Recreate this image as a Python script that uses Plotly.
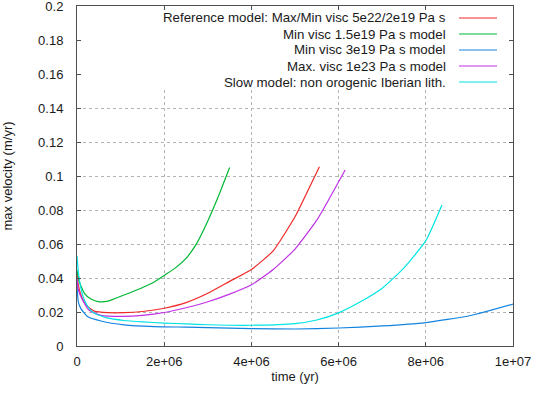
import plotly.graph_objects as go

# ---------------- data (time in years, velocity in m/yr) ----------------
names = [
    "Reference model: Max/Min visc 5e22/2e19 Pa s",
    "Min visc 1.5e19 Pa s model",
    "Min visc 3e19 Pa s model",
    "Max. visc 1e23 Pa s model",
    "Slow model: non orogenic Iberian lith.",
]
colors = ["#f02828", "#00b834", "#1284e0", "#c030e8", "#00e4e4"]

ref_t = [0, 0.03e6, 0.09e6, 0.21e6, 0.4e6, 0.71e6, 1.08e6, 1.5e6, 2.0e6, 2.5e6,
         3.0e6, 3.5e6, 4.0e6, 4.5e6, 5.0e6, 5.25e6, 5.56e6]
ref_v = [0.043, 0.036, 0.030, 0.024, 0.0205, 0.0196, 0.0196, 0.0203, 0.0222, 0.0255,
         0.031, 0.038, 0.045, 0.056, 0.076, 0.089, 0.1055]

g_t = [0, 0.05e6, 0.17e6, 0.32e6, 0.51e6, 0.71e6, 1.08e6, 1.47e6, 1.77e6, 2.02e6,
       2.25e6, 2.5e6, 2.75e6, 3.0e6, 3.25e6, 3.5e6]
g_v = [0.0447, 0.038, 0.031, 0.0276, 0.026, 0.0264, 0.030, 0.034, 0.0376, 0.0418,
       0.0458, 0.0515, 0.0605, 0.0735, 0.0885, 0.105]

b_t = [0, 0.03e6, 0.09e6, 0.24e6, 0.55e6, 1.08e6, 1.77e6, 2.5e6, 3.0e6, 4.0e6,
       5.0e6, 6.0e6, 7.0e6, 8.0e6, 9.0e6, 10.0e6]
b_v = [0.036, 0.026, 0.022, 0.0173, 0.0147, 0.0124, 0.0114, 0.0111, 0.0108, 0.0102,
       0.0100, 0.0106, 0.0118, 0.0138, 0.0178, 0.0247]

m_t = [0, 0.03e6, 0.13e6, 0.28e6, 0.55e6, 1.08e6, 1.5e6, 2.0e6, 2.5e6, 3.0e6,
       3.5e6, 4.0e6, 4.5e6, 5.0e6, 5.5e6, 5.75e6, 6.15e6]
m_v = [0.040, 0.033, 0.027, 0.021, 0.018, 0.0174, 0.018, 0.0197, 0.0225, 0.026,
       0.0305, 0.036, 0.045, 0.057, 0.074, 0.085, 0.1035]

c_t = [0, 0.03e6, 0.09e6, 0.17e6, 0.28e6, 0.4e6, 0.69e6, 1.08e6, 1.5e6, 2.0e6, 2.5e6,
       3.0e6, 4.0e6, 5.0e6, 5.5e6, 6.0e6, 6.5e6, 7.0e6, 7.5e6, 8.0e6, 8.37e6]
c_v = [0.053, 0.0437, 0.034, 0.027, 0.022, 0.0193, 0.0165, 0.015, 0.0142, 0.0135, 0.013,
       0.0125, 0.0122, 0.0132, 0.0153, 0.0195, 0.026, 0.034, 0.046, 0.062, 0.083]

series_t = [ref_t, g_t, b_t, m_t, c_t]
series_v = [ref_v, g_v, b_v, m_v, c_v]

x_ticks = [0, 2e6, 4e6, 6e6, 8e6, 1e7]
x_labels = ["0", "2e+06", "4e+06", "6e+06", "8e+06", "1e+07"]
y_ticks = [0, 0.02, 0.04, 0.06, 0.08, 0.1, 0.12, 0.14, 0.16, 0.18, 0.2]
y_labels = ["0", "0.02", "0.04", "0.06", "0.08", "0.1", "0.12", "0.14", "0.16", "0.18", "0.2"]

# ---------------- figure ----------------
W, H = 533, 394
ML, MR, MT, MB = 77, 20, 6, 48
PW, PH = W - ML - MR, H - MT - MB

FONT = "Liberation Sans, Arial, sans-serif"
TXT = "#1a1a1a"

fig = go.Figure()
for name, t, v, col in zip(names, series_t, series_v, colors):
    fig.add_trace(go.Scatter(x=t, y=v, mode="lines", name=name,
                             line=dict(color=col, width=1.2, shape="spline", smoothing=0.5),
                             showlegend=False, hoverinfo="skip"))

def px2paper(px, py):
    return (px - ML) / PW, (H - MB - py) / PH

# white key background that hides the grid near the top (gnuplot opaque key)
fig.add_shape(type="rect", xref="x", yref="y", x0=0, x1=1e7, y0=0.151, y1=0.2,
              fillcolor="white", line=dict(width=0), layer="between")

# key: right aligned text followed by a line sample
row_y = [18, 34, 50, 66, 82]
for name, col, ry in zip(names, colors, row_y):
    tx, ty = px2paper(448, ry)
    fig.add_annotation(x=tx, y=ty, xref="paper", yref="paper", text=name,
                       showarrow=False, xanchor="right", yanchor="middle",
                       font=dict(family=FONT, size=13.3, color=TXT))
    x0, y0 = px2paper(459, ry)
    x1, _ = px2paper(497, ry)
    fig.add_shape(type="line", xref="paper", yref="paper", x0=x0, x1=x1, y0=y0, y1=y0,
                  line=dict(color=col, width=1.2))

axis_common = dict(
    showline=True, linecolor="#505050", linewidth=1, mirror="ticks",
    ticks="inside", ticklen=4, tickcolor="#505050", tickwidth=1,
    showgrid=True, gridcolor="#b4b4b4", griddash="dot", gridwidth=1,
    zeroline=False, tickfont=dict(family=FONT, size=13, color=TXT),
    ticklabeloverflow="allow",
)

fig.update_xaxes(range=[0, 1e7], tickvals=x_ticks, ticktext=x_labels,
                 title=dict(text="time (yr)", font=dict(family=FONT, size=13, color=TXT), standoff=4),
                 ticklabelstandoff=3, **axis_common)
fig.update_yaxes(range=[0, 0.2], tickvals=y_ticks, ticktext=y_labels,
                 title=dict(text="max velocity (m/yr)", font=dict(family=FONT, size=13, color=TXT), standoff=24),
                 ticklabelstandoff=10, **axis_common)

fig.update_layout(width=W, height=H, margin=dict(l=ML, r=MR, t=MT, b=MB, autoexpand=False),
                  paper_bgcolor="white", plot_bgcolor="white", hovermode=False,
                  font=dict(family=FONT, size=13, color=TXT), showlegend=False)

fig.write_html("out.html", config={"displayModeBar": False, "staticPlot": True},
               post_script="document.body.style.margin='0px';")
